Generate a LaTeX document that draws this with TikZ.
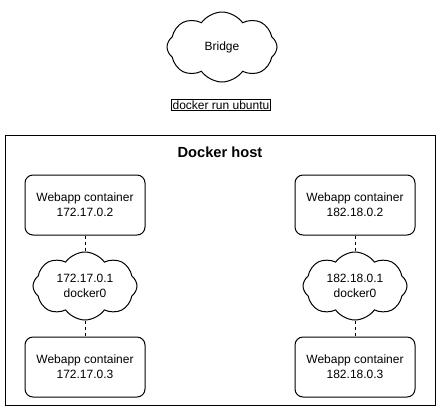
\documentclass[tikz,border=0pt]{standalone}
\usepackage{fontspec}
\setmainfont{Liberation Sans}
\usetikzlibrary{positioning, shapes.symbols}

\tikzset{
    container/.style={draw, line width=0.75pt, rounded corners=6pt, minimum width=90pt, minimum height=45pt, align=center, font=\fontsize{9}{11}\selectfont},
    net/.style={draw, line width=0.75pt, cloud, cloud puffs=8, cloud puff arc=110, cloud ignores aspect, minimum width=78pt, minimum height=51pt, align=center, font=\fontsize{9}{11}\selectfont},
    link/.style={line width=0.75pt, dash pattern=on 2.25pt off 2.25pt}
}

\begin{document}
\begin{tikzpicture}[x=0.75pt,y=-0.75pt,node distance=60.75pt and 202.5pt,on grid]
    \useasboundingbox (0,0) rectangle (441,411);
    \node[net, minimum width=82.5pt, minimum height=52.5pt] (bridge) at (222,47) {Bridge};
    \node[draw, line width=0.75pt, inner sep=1pt, font=\fontsize{9}{11}\selectfont] (cmd) at (221,105) {docker run ubuntu};

    \node[draw, line width=0.75pt, minimum width=322.5pt, minimum height=202.5pt] (host) at (220,270) {};
    \node[font=\fontsize{11}{13}\selectfont\bfseries] (title) at (220,152) {Docker host};

    \node[container] (c1) at (85,205) {Webapp container\\172.17.0.2};
    \node[net] (br1) [below=of c1] {172.17.0.1\\docker0};
    \node[container] (c2) [below=of br1] {Webapp container\\172.17.0.3};
    \node[container] (c3) [right=of c1] {Webapp container\\182.18.0.2};
    \node[net] (br2) [below=of c3] {182.18.0.1\\docker0};
    \node[container] (c4) [below=of br2] {Webapp container\\182.18.0.3};

    \path[link]
    (c1) edge (br1)
    (br1) edge (c2)
    (c3) edge (br2)
    (br2) edge (c4)
    ;
\end{tikzpicture}
\end{document}
